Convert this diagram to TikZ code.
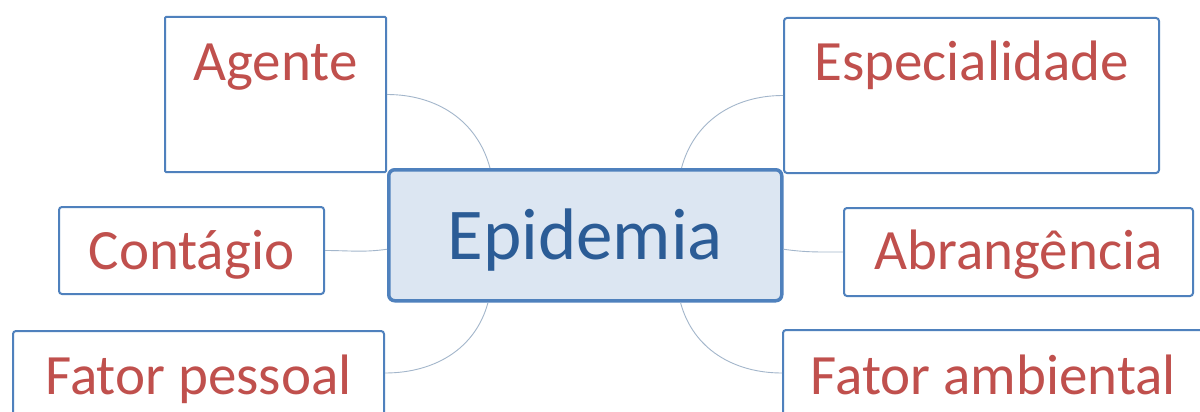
\documentclass[tikz,border=0pt]{standalone}
\usepackage{fontspec}
\setmainfont{Carlito}
\definecolor{leafred}{HTML}{C0504D}
\definecolor{boxblue}{HTML}{4F81BD}
\definecolor{hubfill}{HTML}{DCE6F2}
\definecolor{hubtext}{HTML}{2B5C96}
\definecolor{linkcol}{HTML}{A3B6CB}
\begin{document}
\begin{tikzpicture}[x=1pt,y=-1pt,
  leaf/.style={draw=boxblue, line width=2pt, fill=white, inner sep=0pt, anchor=north west,
    text=leafred, font=\fontsize{57}{59}\selectfont, rounded corners=3pt},
  hub/.style={draw=boxblue, line width=3.5pt, fill=hubfill, inner sep=0pt, anchor=north west,
    text=hubtext, font=\fontsize{73}{75}\selectfont, rounded corners=6pt},
  link/.style={draw=linkcol, line width=0.9pt}]
\useasboundingbox (0,0) rectangle (1200,412);
\clip (0,0) rectangle (1200,412);
\fill[white] (0,0) rectangle (1200,412);

\node[hub, minimum width=393pt, text height=90pt, text depth=41pt] (epi) at (387,168) {Epidemia};

\node[leaf, rounded corners=1pt, minimum width=221pt, text height=64pt, text depth=91pt] (agente) at (164,16) {Agente};
\node[leaf, minimum width=375pt, text height=63pt, text depth=92pt] (espec) at (783,17) {Especialidade};
\node[leaf, minimum width=265pt, text height=62pt, text depth=25pt] (cont) at (58,206) {Contágio};
\node[leaf, minimum width=349pt, text height=61pt, text depth=27pt] (abr) at (843,207) {Abrangência};
\node[leaf, minimum width=371pt, text height=63pt, text depth=50pt] (fp) at (12,330) {Fator pessoal};
\node[leaf, minimum width=421pt, text height=64pt, text depth=50pt] (fa) at (782,329) {Fator ambiental};

\draw[link] (agente.east) to[out=0,in=105] ([xshift=103pt]epi.north west);
\draw[link] (espec.west) to[out=180,in=75] ([xshift=-102pt]epi.north east);
\draw[link] (cont.east) to[out=0,in=188] ([yshift=-14pt]epi.west);
\draw[link] ([yshift=-14pt]epi.east) to[out=-8,in=180] (abr.west);
\draw[link] ([yshift=-43pt]fp.north east) to[out=0,in=-105] ([xshift=101pt]epi.south west);
\draw[link] ([yshift=-44pt]fa.north west) to[out=180,in=-75] ([xshift=-103pt]epi.south east);
\end{tikzpicture}
\end{document}
